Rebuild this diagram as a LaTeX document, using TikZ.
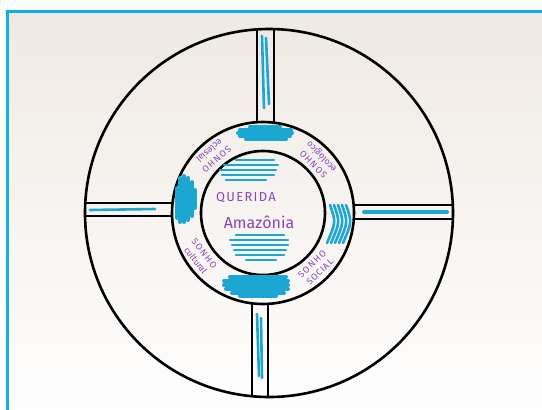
\documentclass[tikz,border=0pt]{standalone}
\usepackage{fontspec}
\newfontfamily\handfont{Fira Sans}
\usetikzlibrary{positioning}
\definecolor{frameblue}{HTML}{12AEEA}
\definecolor{marker}{HTML}{1CA6D2}
\definecolor{ink}{HTML}{8A45B8}
\definecolor{paper}{HTML}{EFE9E3}

\begin{document}
\begin{tikzpicture}[x=1pt,y=-1pt,
  pen/.style={line width=2.6pt,black},
  scrib/.style={marker,line width=4pt,line cap=round},
  thinscrib/.style={marker,line width=2.6pt,line cap=round},
  hand/.style={ink,align=center,inner sep=0pt,font=\handfont\fontsize{9}{11}\selectfont}]
  \useasboundingbox (0,0) rectangle (542,410);
  \fill[white] (0,0) rectangle (542,410);
  \shade[top color=paper, bottom color=white!95!paper] (7,11) rectangle (542,410);
  \draw[frameblue,line width=3pt] (7,412) -- (7,11) -- (545,11);

  \draw[pen] (269,213) circle[radius=184];
  \draw[pen] (263,213) circle[radius=91];
  \draw[pen] (263,213) circle[radius=62];

  \draw[pen] (257,30) -- (257,122);
  \draw[pen] (274,29) -- (274,122);
  \draw[pen] (252,303) -- (252,396);
  \draw[pen] (268,304) -- (268,397);
  \draw[pen] (354,205) -- (453,205);
  \draw[pen] (354,219) -- (453,219);
  \draw[pen] (85,203) -- (172,203);
  \draw[pen] (85,216) -- (172,216);

  \draw[thinscrib] (262,36) -- (264,108);
  \draw[thinscrib] (266,38) -- (269,104);
  \draw[thinscrib] (257,314) -- (259,376);
  \draw[thinscrib] (261,318) -- (262,378);
  \draw[scrib] (364,212) -- (447,212);
  \draw[thinscrib] (90,210) -- (155,209);

  \foreach \yy/\a/\b in {127/250/280, 130/240/291, 133/238/292, 136/240/290, 139/246/286}
    \draw[scrib] (\a,\yy) -- (\b,\yy);
  \foreach \yy/\a/\b in {277/230/286, 281/224/288, 285/224/288, 289/226/288, 293/232/284, 296/240/276}
    \draw[scrib] (\a,\yy) -- (\b,\yy);
  \foreach \xx/\a/\b in {177/188/218, 180/178/222, 184/176/222, 188/178/220, 192/182/216, 195/190/208}
    \draw[scrib] (\xx,\a) -- (\xx,\b);
  \foreach \xx in {330,334,338,342,346}
    \draw[thinscrib] (\xx,205) .. controls (\xx+6,222) .. (\xx-3,243);

  \foreach \yy/\a/\b in {160/236/274, 165/224/278, 170/220/276, 175/222/274, 180/226/266}
    \draw[thinscrib] (\a,\yy) -- (\b,\yy);
  \foreach \yy/\a/\b in {235/236/284, 240/230/288, 245/232/288, 250/234/286, 255/236/284, 260/246/276}
    \draw[thinscrib] (\a,\yy) -- (\b,\yy);

  \node[hand,font=\handfont\fontsize{13}{13}\selectfont\addfontfeatures{LetterSpace=10}] (querida) at (246,198) {QUERIDA};
  \node[hand,font=\handfont\fontsize{16}{16}\selectfont] (amazonia) at (259,222) {Amazônia};

  \node[hand,rotate=221] (eclesial) at (213,155) {\addfontfeatures{LetterSpace=15}SONHO\\eclesial};
  \node[hand,rotate=134] (ecologico) at (318,160) {\addfontfeatures{LetterSpace=15}SONHO\\ecológico};
  \node[hand,rotate=-52] (cultural) at (200,257) {\addfontfeatures{LetterSpace=15}SONHO\\cultural};
  \node[hand,rotate=44] (social) at (316,268) {\addfontfeatures{LetterSpace=15}SONHO\\\addfontfeatures{LetterSpace=10}SOCIAL};
\end{tikzpicture}
\end{document}
